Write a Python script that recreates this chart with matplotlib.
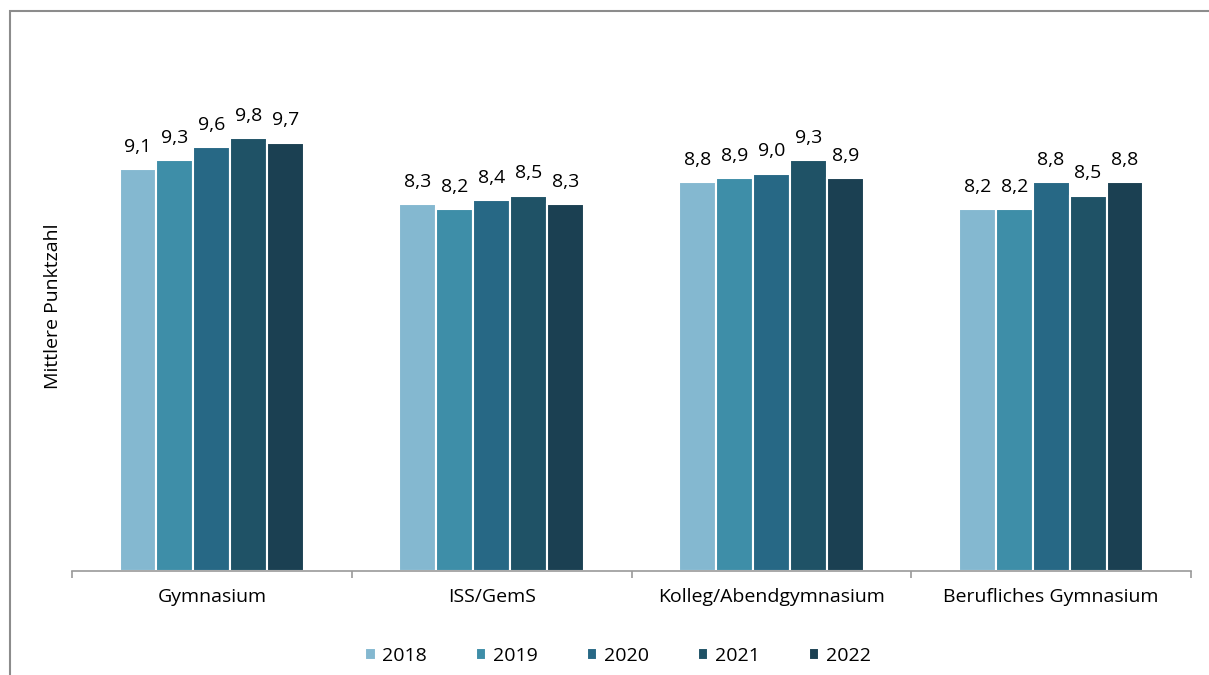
import matplotlib.pyplot as plt
from matplotlib.patches import Rectangle
import numpy as np

plt.rcParams['font.family'] = ['Open Sans', 'DejaVu Sans']

# data
categories = ["Gymnasium", "ISS/GemS", "Kolleg/Abendgymnasium", "Berufliches Gymnasium"]
years = ["2018", "2019", "2020", "2021", "2022"]
values_2018 = [9.1, 8.3, 8.8, 8.2]
values_2019 = [9.3, 8.2, 8.9, 8.2]
values_2020 = [9.6, 8.4, 9.0, 8.8]
values_2021 = [9.8, 8.5, 9.3, 8.5]
values_2022 = [9.7, 8.3, 8.9, 8.8]
series = [values_2018, values_2019, values_2020, values_2021, values_2022]
colors = ["#84B8D0", "#3E8EA8", "#276885", "#1F5266", "#1B4052"]

W, H = 1209, 675
fig = plt.figure(figsize=(W / 100, H / 100), dpi=100)
ax = fig.add_axes([72 / W, (H - 571) / H, (1191 - 72) / W, (571 - 41) / H])

# outer frame (only left and top visible in the reference)
fig.patches.append(Rectangle((10 / W, -0.1), 1.2, (H - 11) / H + 0.1, transform=fig.transFigure,
                             fill=False, edgecolor="#8c8c8c", linewidth=1.5))

x = np.arange(len(categories))
bw = 0.132
for i, (vals, col, yr) in enumerate(zip(series, colors, years)):
    pos = x + (i - 2) * bw
    bars = ax.bar(pos, vals, width=bw, color=col, edgecolor="white", linewidth=1.5, label=yr)
    for b, v in zip(bars, vals):
        ax.text(b.get_x() + b.get_width() / 2, v + 0.3, f"{v:.1f}".replace(".", ","),
                ha="center", va="bottom", fontsize=14, color="black")

ax.set_xlim(-0.5, 3.5)
ax.set_ylim(0, 12)
ax.set_yticks([])
for s in ["top", "right", "left"]:
    ax.spines[s].set_visible(False)
ax.spines["bottom"].set_color("#9a9a9a")
ax.spines["bottom"].set_linewidth(1.2)

ax.set_xticks(x)
ax.set_xticklabels(categories, fontsize=14)
ax.tick_params(axis="x", which="major", length=0, pad=12)
ax.set_xticks([-0.5, 0.5, 1.5, 2.5, 3.5], minor=True)
ax.tick_params(axis="x", which="minor", length=5, width=1.2, color="#9a9a9a")

ax.set_ylabel("Mittlere Punktzahl", fontsize=14, labelpad=7)

leg = fig.legend(loc="center", bbox_to_anchor=(618 / W, (H - 656) / H), ncol=5, frameon=False,
                 fontsize=14, handlelength=0.55, handleheight=0.55, handletextpad=0.35, columnspacing=2.5)

plt.savefig("out.png", dpi=100)
